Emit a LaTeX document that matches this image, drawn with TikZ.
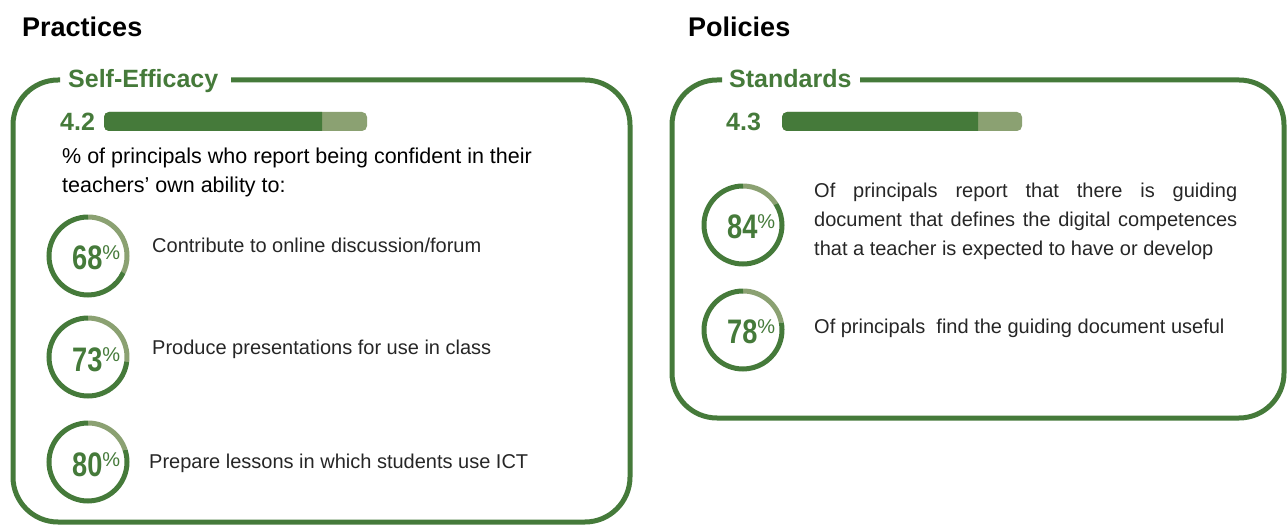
\documentclass[tikz,border=0pt]{standalone}
\usepackage{fontspec}
\setmainfont{Liberation Sans}
\usepackage{graphicx}
\definecolor{dgreen}{HTML}{457A3A}
\definecolor{lgreen}{HTML}{8BA172}
\newcommand\pctring[4]{%
  \coordinate (#1) at (#2,#3);
  \draw[lgreen, line width=5pt] (#1) ++(90:39) arc[start angle=90, end angle={90-(1-#4)*360}, radius=39];
  \draw[dgreen, line width=5pt] (#1) ++(90:39) arc[start angle=90, end angle={90+#4*360}, radius=39];
}
\newcommand\pcttext[1]{{\fontsize{34}{34}\selectfont\bfseries\scalebox{0.8}[1]{#1}}{\fontsize{20}{20}\selectfont\raisebox{10pt}{\%}}}
\begin{document}
\begin{tikzpicture}[x=1pt,y=1pt,
  frame/.style={draw=dgreen, line width=5pt, rounded corners=45pt},
  head/.style={anchor=base west, inner sep=0, font=\fontsize{27}{27}\selectfont\bfseries},
  ttl/.style={anchor=base west, inner sep=0, text=dgreen, font=\fontsize{25}{25}\selectfont\bfseries},
  intro/.style={anchor=base west, inner sep=0, font=\fontsize{21.5}{29}\selectfont},
  body/.style={anchor=base west, inner sep=0, text=black!85, font=\fontsize{20}{29}\selectfont},
  pct/.style={anchor=base west, inner sep=0, text=dgreen}]
\useasboundingbox (0,0) rectangle (1287,-526);
% headers
\node[head] (hp) at (22,-37) {Practices};
\node[head] (hq) at (688,-37) {Policies};
% frames
\draw[frame] (231,-80) -- (630,-80) -- (630,-522) -- (13,-522) -- (13,-80) -- (60,-80);
\draw[frame] (860,-80) -- (1284,-80) -- (1284,-418) -- (672,-418) -- (672,-80) -- (722,-80);
\node[ttl] (t1) at (68,-88) {Self-Efficacy};
\node[ttl] (t2) at (729,-88) {Standards};
% scores
\node[ttl] (s1) at (60,-131) {4.2};
\fill[lgreen, rounded corners=5pt] (104,-112) rectangle (367,-131);
\fill[dgreen] (322,-112) [rounded corners=5pt] -- (104,-112) -- (104,-131) [sharp corners] -- (322,-131) -- cycle;
\node[ttl] (s2) at (726,-131) {4.3};
\fill[lgreen, rounded corners=5pt] (782,-112) rectangle (1022,-131);
\fill[dgreen] (978,-112) [rounded corners=5pt] -- (782,-112) -- (782,-131) [sharp corners] -- (978,-131) -- cycle;
% left text
\node[intro] (i1) at (62,-164) {\% of principals who report being confident in their};
\node[intro] (i2) at (62,-193) {teachers’ own ability to:};
\pctring{r1}{88}{-256}{0.68}
\pctring{r2}{88}{-357}{0.73}
\pctring{r3}{88}{-462}{0.80}
\node[pct] (n1) at (72,-270) {\pcttext{68}};
\node[pct] (n2) at (72,-371) {\pcttext{73}};
\node[pct] (n3) at (72,-476) {\pcttext{80}};
\node[body] (l1) at (152,-253) {Contribute to online discussion/forum};
\node[body] (l2) at (152,-354) {Produce presentations for use in class};
\node[body] (l3) at (149,-468) {Prepare lessons in which students use ICT};
% right
\pctring{r4}{743}{-225}{0.84}
\pctring{r5}{743}{-330}{0.78}
\node[pct] (n4) at (727,-239) {\pcttext{84}};
\node[pct] (n5) at (727,-344) {\pcttext{78}};
\node[body] (m1) at (814,-198) {\makebox[423pt][s]{Of principals report that there is guiding}};
\node[body] (m2) at (814,-227) {\makebox[423pt][s]{document that defines the digital competences}};
\node[body] (m3) at (814,-256) {that a teacher is expected to have or develop};
\node[body] (m4) at (814,-334) {Of principals\ \ find the guiding document useful};
\end{tikzpicture}
\end{document}
